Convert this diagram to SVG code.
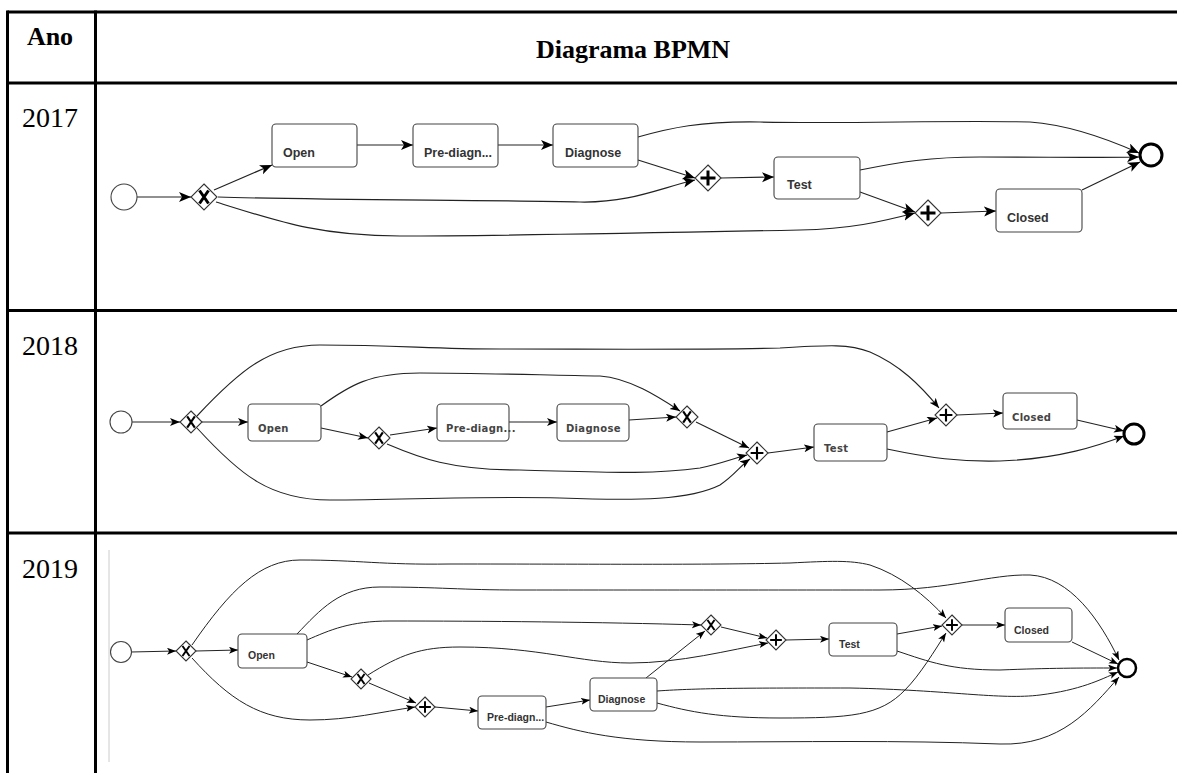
<svg xmlns="http://www.w3.org/2000/svg" width="1177" height="773" viewBox="0 0 1177 773">
  <style>
    .grid { stroke: #000; stroke-width: 3; fill: none; }
    .hdr { font-family: "Liberation Serif", "Times New Roman", serif; font-weight: bold; font-size: 26px; fill: #000; }
    .year { font-family: "Liberation Serif", "Times New Roman", serif; font-size: 28px; fill: #000; }
    .task { fill: #fff; stroke: #444; stroke-width: 1.1; }
    .gw { fill: #fff; stroke: #333; stroke-width: 1.1; }
    .mark { stroke: #000; stroke-width: 3; fill: none; }
    .mark2 { stroke: #000; stroke-width: 2.5; fill: none; }
    .start { fill: #fff; stroke: #444; stroke-width: 1.1; }
    .end { fill: #fff; stroke: #000; }
    .flow { fill: none; stroke: #222; stroke-width: 1.2; }
    .r1 .flow { marker-end: url(#ah1); }
    .r2 .flow { marker-end: url(#ah2); stroke-width: 1.1; }
    .r3 .flow { marker-end: url(#ah3); stroke-width: 1; }
    .l1 { font-family: "Liberation Sans", Arial, sans-serif; font-weight: bold; font-size: 12.5px; fill: #333; }
    .l2 { font-family: "DejaVu Sans", Verdana, sans-serif; font-weight: bold; font-size: 10px; letter-spacing: 0.3px; fill: #444; }
    .l3 { font-family: "Liberation Sans", Arial, sans-serif; font-weight: bold; font-size: 10.5px; fill: #333; }
  </style>
  <defs>
    <marker id="ah1" markerUnits="userSpaceOnUse" markerWidth="13" markerHeight="11" refX="12" refY="5" orient="auto">
      <path d="M0,0 L12,5 L0,10 L3,5 Z" fill="#000"/>
    </marker>
    <marker id="ah2" markerUnits="userSpaceOnUse" markerWidth="11" markerHeight="9" refX="10" refY="4" orient="auto">
      <path d="M0,0 L10,4 L0,8 L2.5,4 Z" fill="#000"/>
    </marker>
    <marker id="ah3" markerUnits="userSpaceOnUse" markerWidth="10" markerHeight="8" refX="9" refY="3.5" orient="auto">
      <path d="M0,0 L9,3.5 L0,7 L2.2,3.5 Z" fill="#000"/>
    </marker>
    <path id="xmark" d="M-4.5,-6.5 L4.5,6.5 M4.5,-6.5 L-4.5,6.5"/>
    <path id="pmark" d="M0,-7.5 L0,7.5 M-7.5,0 L7.5,0"/>
  </defs>

  <rect width="1177" height="773" fill="#fff"/>

  <!-- table grid -->
  <g id="table">
    <path class="grid" d="M7.5,12 L1177,12 M7.5,83 L1177,83 M7.5,310.5 L1177,310.5 M7.5,533 L1177,533"/>
    <path class="grid" d="M7.5,10.5 L7.5,773 M95.5,10.5 L95.5,773"/>
    <text class="hdr" x="50" y="45" text-anchor="middle">Ano</text>
    <text class="hdr" x="633" y="58" text-anchor="middle">Diagrama BPMN</text>
    <text class="year" x="22" y="127">2017</text>
    <text class="year" x="22" y="355">2018</text>
    <text class="year" x="22" y="578">2019</text>
  </g>

  <!-- ===================== 2017 ===================== -->
  <g id="row2017" class="r1">
    <g id="flows2017">
      <path class="flow" d="M137,197 L191,197"/>
      <path class="flow" d="M214,190 L272,165"/>
      <path class="flow" d="M357,145 L413,145"/>
      <path class="flow" d="M498,145 L553,145"/>
      <path class="flow" d="M638,137 C670,128 700,121 760,122 C850,124 950,120 1030,122 C1070,125 1110,140 1139,153"/>
      <path class="flow" d="M638,160 L695,178"/>
      <path class="flow" d="M218,197 C300,200 500,200 580,202 C630,203 660,188 695,180"/>
      <path class="flow" d="M216,202 C280,222 320,236 400,236 C500,236 700,232 800,230 C850,229 880,222 915,213"/>
      <path class="flow" d="M721,178 L774,177"/>
      <path class="flow" d="M860,170 C900,162 930,157 980,157 C1050,157 1100,158 1139,157"/>
      <path class="flow" d="M860,192 L915,212"/>
      <path class="flow" d="M941,213 L996,211"/>
      <path class="flow" d="M1082,190 L1140,162"/>
    </g>
    <g id="start2017"><circle class="start" cx="124" cy="197" r="13"/></g>
    <g id="xor2017"><path class="gw" d="M204,184 L217,197 L204,210 L191,197 Z"/><use href="#xmark" class="mark" x="204" y="197"/></g>
    <g id="open2017"><rect class="task" x="272" y="124" width="85" height="43" rx="4"/><text class="l1" x="283" y="157">Open</text></g>
    <g id="pre2017"><rect class="task" x="413" y="124" width="85" height="43" rx="4"/><text class="l1" x="424" y="157">Pre-diagn...</text></g>
    <g id="diag2017"><rect class="task" x="553" y="124" width="85" height="43" rx="4"/><text class="l1" x="565" y="157">Diagnose</text></g>
    <g id="and2017a"><path class="gw" d="M708,165 L721,178 L708,191 L695,178 Z"/><use href="#pmark" class="mark" x="708" y="178"/></g>
    <g id="test2017"><rect class="task" x="774" y="157" width="86" height="42" rx="4"/><text class="l1" x="787" y="189">Test</text></g>
    <g id="and2017b"><path class="gw" d="M928,200 L941,213 L928,226 L915,213 Z"/><use href="#pmark" class="mark" x="928" y="213"/></g>
    <g id="closed2017"><rect class="task" x="996" y="189" width="86" height="43" rx="4"/><text class="l1" x="1007" y="222">Closed</text></g>
    <g id="end2017"><circle class="end" cx="1151" cy="155" r="11" stroke-width="3"/></g>
  </g>

  <!-- ===================== 2018 ===================== -->
  <g id="row2018" class="r2">
    <g id="flows2018">
      <path class="flow" d="M132,422 L180,422"/>
      <path class="flow" d="M202,422 L248,422"/>
      <path class="flow" d="M197,416 C240,370 270,345 320,345 C400,345 430,349 500,349 C600,349 700,350 780,348 C830,345 850,344 870,352 C900,365 920,385 939,408"/>
      <path class="flow" d="M321,406 C350,385 370,373 420,373 C480,373 540,375 600,376 C630,378 660,398 680,411"/>
      <path class="flow" d="M321,428 L368,438"/>
      <path class="flow" d="M390,435 L437,428"/>
      <path class="flow" d="M387,444 C420,458 450,470 520,470 C600,472 650,475 700,468 C720,464 735,458 747,455"/>
      <path class="flow" d="M197,428 C240,475 270,500 330,500 C400,500 480,496 560,498 C640,501 690,500 720,485 C735,475 740,466 750,459"/>
      <path class="flow" d="M509,422 L557,422"/>
      <path class="flow" d="M629,420 L676,417"/>
      <path class="flow" d="M696,422 L749,448"/>
      <path class="flow" d="M768,453 L814,447"/>
      <path class="flow" d="M887,432 L937,418"/>
      <path class="flow" d="M957,415 L1003,413"/>
      <path class="flow" d="M887,449 C930,458 960,462 1000,461 C1060,459 1100,445 1124,436"/>
      <path class="flow" d="M1077,420 L1124,431"/>
    </g>
    <g id="start2018"><circle class="start" cx="121" cy="422" r="11"/></g>
    <g id="xor2018a"><path class="gw" d="M191,411 L202,422 L191,433 L180,422 Z"/><use href="#xmark" class="mark2" x="191" y="422" transform="translate(191 422) scale(0.85) translate(-191 -422)"/></g>
    <g id="open2018"><rect class="task" x="248" y="404" width="73" height="37" rx="4"/><text class="l2" x="258" y="432">Open</text></g>
    <g id="xor2018b"><path class="gw" d="M379,427 L390,438 L379,449 L368,438 Z"/><use href="#xmark" class="mark2" x="379" y="438" transform="translate(379 438) scale(0.85) translate(-379 -438)"/></g>
    <g id="pre2018"><rect class="task" x="437" y="404" width="72" height="37" rx="4"/><text class="l2" x="446" y="432">Pre-diagn...</text></g>
    <g id="diag2018"><rect class="task" x="557" y="404" width="72" height="37" rx="4"/><text class="l2" x="566" y="432">Diagnose</text></g>
    <g id="xor2018c"><path class="gw" d="M687,406 L698,417 L687,428 L676,417 Z"/><use href="#xmark" class="mark2" x="687" y="417" transform="translate(687 417) scale(0.85) translate(-687 -417)"/></g>
    <g id="and2018a"><path class="gw" d="M757,442 L768,453 L757,464 L746,453 Z"/><use href="#pmark" class="mark2" x="757" y="453" transform="translate(757 453) scale(0.85) translate(-757 -453)"/></g>
    <g id="test2018"><rect class="task" x="814" y="424" width="73" height="37" rx="4"/><text class="l2" x="824" y="452">Test</text></g>
    <g id="and2018b"><path class="gw" d="M946,404 L957,415 L946,426 L935,415 Z"/><use href="#pmark" class="mark2" x="946" y="415" transform="translate(946 415) scale(0.85) translate(-946 -415)"/></g>
    <g id="closed2018"><rect class="task" x="1003" y="393" width="74" height="36" rx="4"/><text class="l2" x="1012" y="421">Closed</text></g>
    <g id="end2018"><circle class="end" cx="1134" cy="434" r="10" stroke-width="3"/></g>
  </g>

  <!-- ===================== 2019 ===================== -->
  <g id="row2019" class="r3">
    <line x1="109" y1="550" x2="109" y2="762" stroke="#ccc" stroke-width="1"/>
    <g id="flows2019">
      <path class="flow" d="M131,652 L176,651"/>
      <path class="flow" d="M196,651 L238,650"/>
      <path class="flow" d="M192,645 C230,590 260,560 300,560 C360,560 380,565 450,564 C600,564 700,565 790,563 C830,561 850,560 870,565 C900,575 925,595 946,618"/>
      <path class="flow" d="M297,634 C320,610 340,587 380,587 C440,587 460,590 520,590 C700,590 800,590 880,590 C950,590 990,574 1030,575 C1070,577 1100,620 1119,660"/>
      <path class="flow" d="M307,640 C330,630 350,621 390,621 C480,621 600,622 701,625"/>
      <path class="flow" d="M368,675 C400,655 420,647 460,647 C540,647 580,663 630,663 C680,663 730,650 768,643"/>
      <path class="flow" d="M307,662 L352,677"/>
      <path class="flow" d="M369,683 L416,703"/>
      <path class="flow" d="M192,658 C230,700 260,720 310,720 C350,720 380,712 415,707"/>
      <path class="flow" d="M435,707 L478,711"/>
      <path class="flow" d="M546,707 L590,700"/>
      <path class="flow" d="M646,678 L705,631"/>
      <path class="flow" d="M721,627 L767,638"/>
      <path class="flow" d="M786,640 L829,639"/>
      <path class="flow" d="M897,634 L942,626"/>
      <path class="flow" d="M962,625 L1005,625"/>
      <path class="flow" d="M1072,642 L1118,664"/>
      <path class="flow" d="M897,651 C930,662 950,670 1000,670 C1050,668 1080,668 1117,668"/>
      <path class="flow" d="M657,691 C700,688 750,688 850,688 C950,690 1000,700 1040,695 C1080,690 1100,680 1118,672"/>
      <path class="flow" d="M657,703 C690,712 720,718 780,718 C850,718 880,716 905,690 C920,675 935,650 946,633"/>
      <path class="flow" d="M546,722 C580,732 620,742 700,742 C800,742 900,740 1000,744 C1060,746 1090,710 1119,677"/>
    </g>
    <g id="start2019"><circle class="start" cx="121" cy="652" r="10.5"/></g>
    <g id="xor2019a"><path class="gw" d="M186,641 L196,651 L186,661 L176,651 Z"/><use href="#xmark" class="mark2" transform="translate(186 651) scale(0.78)"/></g>
    <g id="open2019"><rect class="task" x="238" y="634" width="69" height="34" rx="4"/><text class="l3" x="248" y="659">Open</text></g>
    <g id="xor2019b"><path class="gw" d="M361,669 L371,679 L361,689 L351,679 Z"/><use href="#xmark" class="mark2" transform="translate(361 679) scale(0.78)"/></g>
    <g id="and2019a"><path class="gw" d="M425,697 L435,707 L425,717 L415,707 Z"/><use href="#pmark" class="mark2" transform="translate(425 707) scale(0.78)"/></g>
    <g id="pre2019"><rect class="task" x="478" y="696" width="68" height="33" rx="4"/><text class="l3" x="487" y="721">Pre-diagn...</text></g>
    <g id="diag2019"><rect class="task" x="590" y="678" width="67" height="33" rx="4"/><text class="l3" x="598" y="703">Diagnose</text></g>
    <g id="xor2019c"><path class="gw" d="M711,615 L721,625 L711,635 L701,625 Z"/><use href="#xmark" class="mark2" transform="translate(711 625) scale(0.78)"/></g>
    <g id="and2019b"><path class="gw" d="M776,630 L786,640 L776,650 L766,640 Z"/><use href="#pmark" class="mark2" transform="translate(776 640) scale(0.78)"/></g>
    <g id="test2019"><rect class="task" x="829" y="623" width="68" height="33" rx="4"/><text class="l3" x="839" y="648">Test</text></g>
    <g id="and2019c"><path class="gw" d="M952,615 L962,625 L952,635 L942,625 Z"/><use href="#pmark" class="mark2" transform="translate(952 625) scale(0.78)"/></g>
    <g id="closed2019"><rect class="task" x="1005" y="608" width="67" height="34" rx="4"/><text class="l3" x="1014" y="634">Closed</text></g>
    <g id="end2019"><circle class="end" cx="1127" cy="668" r="9" stroke-width="2.5"/></g>
  </g>
</svg>
